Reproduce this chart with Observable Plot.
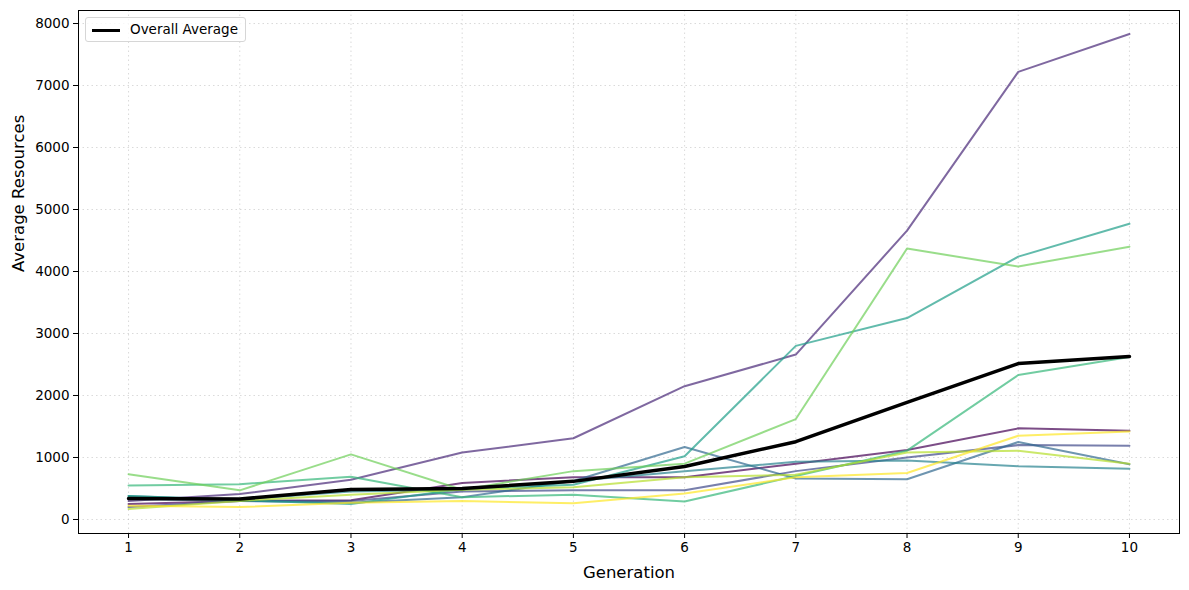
<!DOCTYPE html>
<html>
<head>
<meta charset="utf-8">
<script src="https://cdn.jsdelivr.net/npm/d3@7"></script>
<script src="https://cdn.jsdelivr.net/npm/@observablehq/plot@0.6"></script>
<style>
  html, body { margin: 0; padding: 0; background: #fff; }
  #wrap { position: relative; width: 1189px; height: 590px; font-family: "DejaVu Sans", sans-serif; }
  #legend { position: absolute; left: 85px; top: 17px; width: 161px; height: 25px; box-sizing: border-box;
    border: 1px solid #d6d6d6; border-radius: 3px; background: rgba(255,255,255,0.8);
    font-size: 13.5px; color: #000; }
  #legend .sw { position: absolute; left: 6px; top: 11px; width: 28px; height: 3px; background: #000; }
  #legend .tx { position: absolute; left: 44px; top: 3px; white-space: nowrap; }
</style>
</head>
<body>
<div id="wrap"><div id="chart"></div>
  <div id="legend"><div class="sw"></div><div class="tx">Overall Average</div></div>
</div>
<script>
const generations = [1, 2, 3, 4, 5, 6, 7, 8, 9, 10];
const yTicks = [0, 1000, 2000, 3000, 4000, 5000, 6000, 7000, 8000];
const seriesColors = ["#440154", "#482878", "#3e4989", "#31688e", "#26828e", "#1f9e89", "#35b779", "#6ece58", "#b5de2b", "#fde725"];
const s0 = [250, 300, 310, 590, 680, 680, 900, 1120, 1470, 1430];
const s1 = [300, 410, 640, 1080, 1310, 2150, 2660, 4660, 7220, 7830];
const s2 = [200, 300, 300, 450, 470, 470, 780, 1000, 1200, 1190];
const s3 = [330, 300, 270, 360, 620, 1170, 660, 650, 1250, 890];
const s4 = [380, 320, 450, 480, 620, 780, 930, 950, 860, 820];
const s5 = [380, 310, 250, 490, 560, 1020, 2800, 3250, 4240, 4770];
const s6 = [550, 570, 690, 360, 400, 290, 700, 1110, 2330, 2620];
const s7 = [730, 470, 1050, 480, 780, 900, 1620, 4370, 4080, 4400];
const s8 = [170, 300, 400, 480, 520, 680, 720, 1080, 1110, 900];
const s9 = [220, 200, 270, 300, 260, 420, 680, 750, 1350, 1420];
const overallAverage = [340, 330, 485, 500, 615, 855, 1255, 1890, 2515, 2630];

const allSeries = [s0, s1, s2, s3, s4, s5, s6, s7, s8, s9];
const rows = allSeries.flatMap((vals, i) => vals.map((v, j) => ({gen: generations[j], value: v, series: i})));
const avgRows = overallAverage.map((v, j) => ({gen: generations[j], value: v}));

const chart = Plot.plot({
  width: 1189,
  height: 590,
  marginLeft: 78,
  marginRight: 10,
  marginTop: 10,
  marginBottom: 57,
  style: {fontFamily: "DejaVu Sans, sans-serif", fontSize: "13.5px", color: "#000", background: "#fff"},
  x: {domain: [0.55, 10.45]},
  y: {domain: [-226, 8210]},
  marks: [
    Plot.gridX(generations, {stroke: "#b0b0b0", strokeOpacity: 0.6, strokeDasharray: "1.5,3", strokeWidth: 0.8}),
    Plot.gridY(yTicks, {stroke: "#b0b0b0", strokeOpacity: 0.6, strokeDasharray: "1.5,3", strokeWidth: 0.8}),
    ...allSeries.map((_, i) => Plot.line(rows.filter(d => d.series === i), {
      x: "gen", y: "value", stroke: seriesColors[i], strokeOpacity: 0.7, strokeWidth: 2
    })),
    Plot.line(avgRows, {x: "gen", y: "value", stroke: "#000", strokeWidth: 3.5}),
    Plot.axisX(generations, {tickSize: 5, tickPadding: 4, label: null, tickFormat: d => String(d), fontSize: 13.5}),
    Plot.axisY(yTicks, {tickSize: 5, tickPadding: 4, label: null, tickFormat: d => String(d), fontSize: 13.5}),
    Plot.frame({stroke: "#000", strokeWidth: 1}),
    Plot.text(["Generation"], {frameAnchor: "bottom", dy: 44, fontSize: 16.5, text: d => d, fill: "#000"}),
    Plot.text(["Average Resources"], {frameAnchor: "left", dx: -60, rotate: -90, fontSize: 16.5, text: d => d, fill: "#000"})
  ]
});
document.getElementById("chart").appendChild(chart);
</script>
</body>
</html>
